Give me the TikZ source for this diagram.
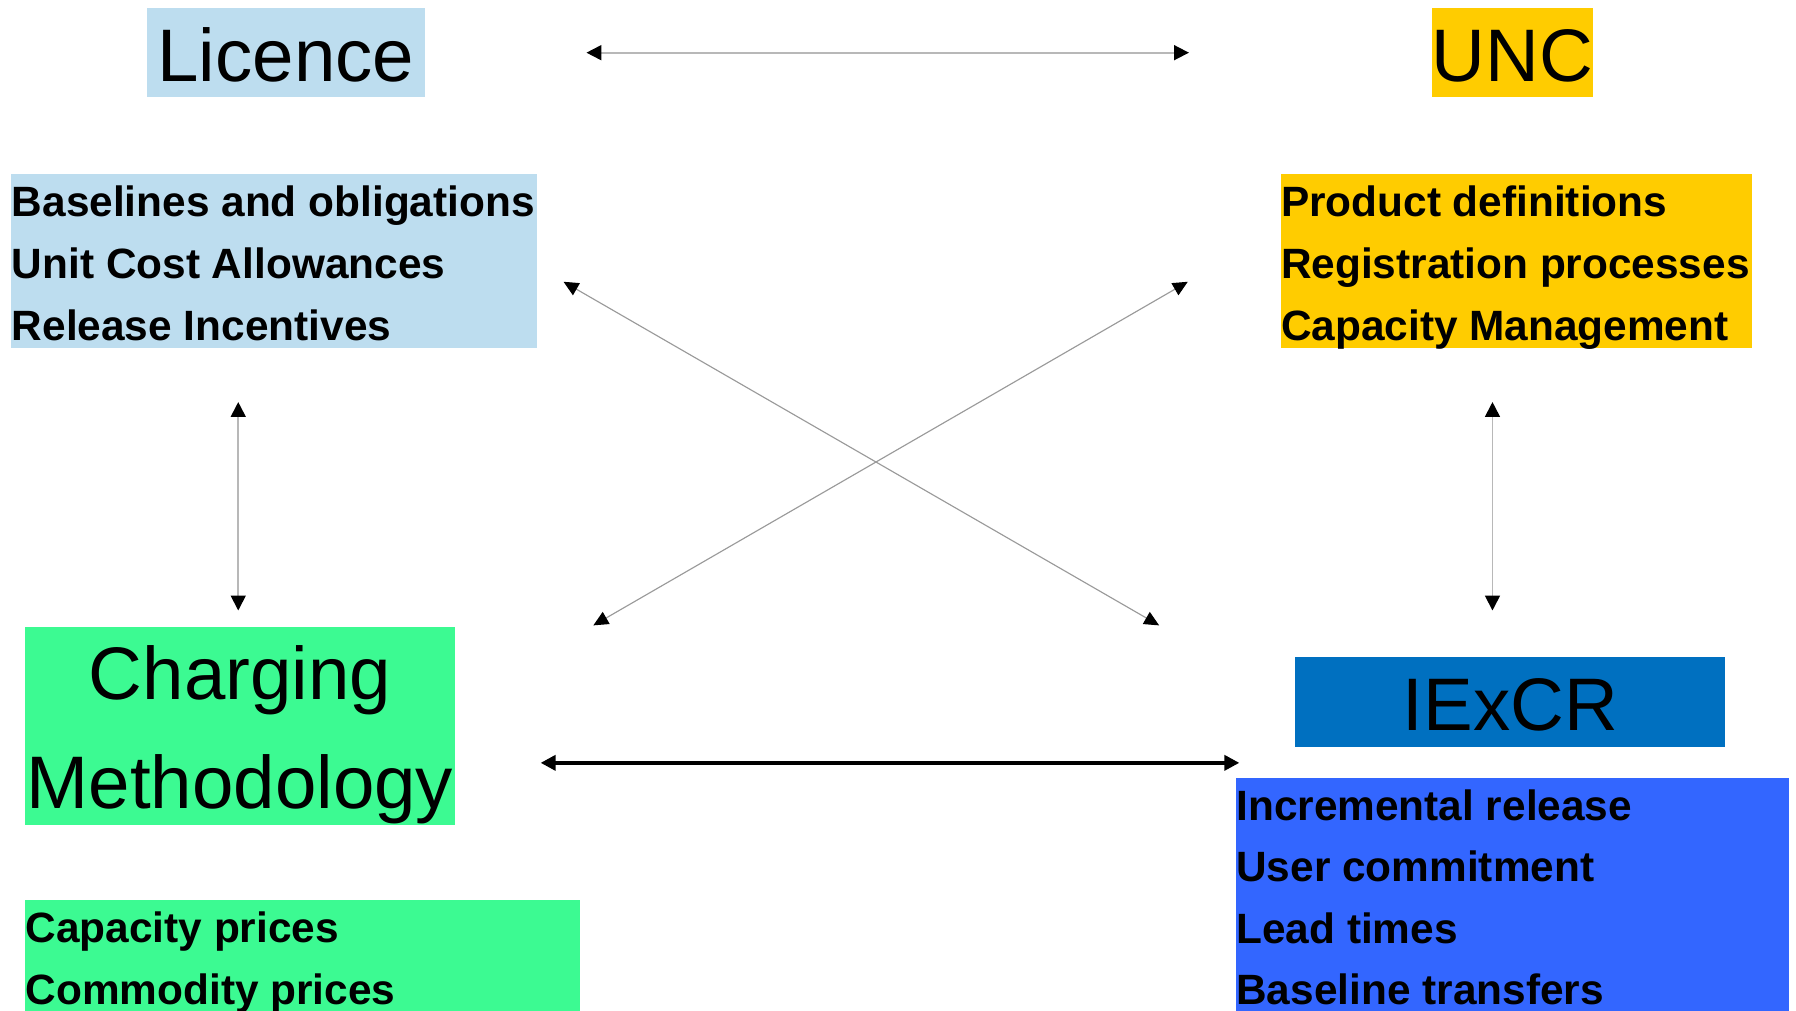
\documentclass[tikz,border=0pt]{standalone}
\usepackage{fontspec}
\setmainfont{Liberation Sans}
\usetikzlibrary{arrows.meta}
\definecolor{licblue}{HTML}{BDDDEF}
\definecolor{uncyel}{HTML}{FFCC00}
\definecolor{chgreen}{HTML}{3CFA92}
\definecolor{iexblue}{HTML}{0070C0}
\definecolor{listblue}{HTML}{3366FF}
\definecolor{thingray}{HTML}{B8B8B8}
\definecolor{diaggray}{HTML}{9A9A9A}
\tikzset{
  box/.style={anchor=north west, inner sep=0pt, outer sep=0pt, draw=none},
  bigtxt/.style={anchor=base, inner sep=0pt, font=\fontsize{32.5}{39}\selectfont},
  listtxt/.style={anchor=base west, inner sep=0pt, font=\bfseries\fontsize{18.5}{22}\selectfont},
  thinarrow/.style={draw=thingray, line width=0.8pt, {Triangle[length=6.5pt,width=6.5pt,color=black]}-{Triangle[length=6.5pt,width=6.5pt,color=black]}},
  diagarrow/.style={draw=diaggray, line width=0.5pt, {Triangle[length=6.5pt,width=6pt,color=black]}-{Triangle[length=6.5pt,width=6pt,color=black]}},
  thickarrow/.style={draw=black, line width=1.6pt, {Triangle[length=6.5pt,width=6.5pt]}-{Triangle[length=6.5pt,width=6.5pt]}}
}
\begin{document}
\begin{tikzpicture}[x=0.5pt,y=-0.5pt]
\useasboundingbox (0,0) rectangle (1568,882);
% boxes
\node[box, fill=licblue, minimum width=121.5pt, minimum height=39pt] (licbox) at (128,7) {};
\node[box, fill=uncyel, minimum width=70.5pt, minimum height=39pt] (uncbox) at (1250,7) {};
\node[box, fill=licblue, minimum width=229.5pt, minimum height=76pt] (liclist) at (10,152) {};
\node[box, fill=uncyel, minimum width=206pt, minimum height=76pt] (unclist) at (1118,152) {};
\node[box, fill=chgreen, minimum width=187.5pt, minimum height=86.5pt] (chbox) at (22,547) {};
\node[box, fill=iexblue, minimum width=187.5pt, minimum height=39pt] (iexbox) at (1131,574) {};
\node[box, fill=listblue, minimum width=241.5pt, minimum height=103pt] (iexlist) at (1079,679) {};
\node[box, fill=chgreen, minimum width=242pt, minimum height=50pt] (chlist) at (22,786) {};
% titles
\node[bigtxt] (lictxt) at (249.5,71) {Licence};
\node[bigtxt] (unctxt) at (1320.5,71) {UNC};
\node[bigtxt] (chtxt1) at (209.5,611) {Charging};
\node[bigtxt] (chtxt2) at (209.5,706) {Methodology};
\node[bigtxt] (iextxt) at (1318.5,638) {IExCR};
% lists
\node[listtxt] (l1) at (10,189) {Baselines and obligations};
\node[listtxt] (l2) at (10,243) {Unit Cost Allowances};
\node[listtxt] (l3) at (10,297) {Release Incentives};
\node[listtxt] (u1) at (1118,189) {Product definitions};
\node[listtxt] (u2) at (1118,243) {Registration processes};
\node[listtxt] (u3) at (1118,297) {Capacity Management};
\node[listtxt] (i1) at (1079,716) {Incremental release};
\node[listtxt] (i2) at (1079,770) {User commitment};
\node[listtxt] (i3) at (1079,824) {Lead times};
\node[listtxt] (i4) at (1079,877) {Baseline transfers};
\node[listtxt] (c1) at (22,823) {Capacity prices};
\node[listtxt] (c2) at (22,877) {Commodity prices};
% arrow end points
\coordinate (tl) at (512,46);
\coordinate (tr) at (1038,46);
\coordinate (lvt) at (208,351);
\coordinate (lvb) at (208,533);
\coordinate (rvt) at (1303,351);
\coordinate (rvb) at (1303,533);
\coordinate (d1a) at (492,246);
\coordinate (d1b) at (1012,546);
\coordinate (d2a) at (1037,246);
\coordinate (d2b) at (518,546);
\coordinate (bl) at (472,666);
\coordinate (br) at (1082,666);
% arrows
\draw[thinarrow] (tl) -- (tr);
\draw[thinarrow] (lvt) -- (lvb);
\draw[thinarrow] (rvt) -- (rvb);
\draw[diagarrow] (d1a) -- (d1b);
\draw[diagarrow] (d2a) -- (d2b);
\draw[thickarrow] (bl) -- (br);
\end{tikzpicture}
\end{document}
